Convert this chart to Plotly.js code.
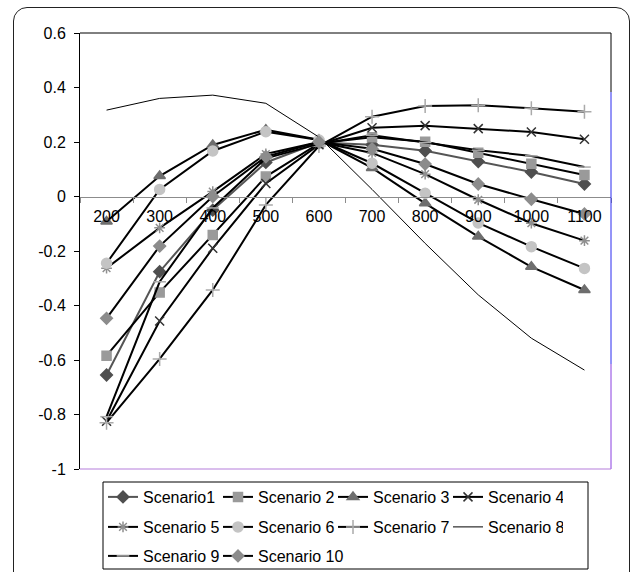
<!DOCTYPE html>
<html>
<head>
<meta charset="utf-8">
<script src="https://cdn.plot.ly/plotly-3.0.1.min.js"></script>
<style>
html,body{margin:0;padding:0;background:#fff;overflow:hidden;}
#wrap{position:relative;width:634px;height:572px;}
#chart{position:absolute;left:0;top:0;width:634px;height:572px;}
#frame{position:absolute;left:12.5px;top:7px;width:617px;height:600px;border:1.6px solid #222;border-radius:14px;pointer-events:none;z-index:5;box-sizing:border-box;}
</style>
</head>
<body>
<div id="wrap">
<div id="chart"></div>
<div id="frame"></div>
</div>
<script>
var categories = ['200','300','400','500','600','700','800','900','1000','1100'];
var seriesNames = ['Scenario1','Scenario 2','Scenario 3','Scenario 4','Scenario 5','Scenario 6','Scenario 7','Scenario 8','Scenario 9','Scenario 10'];
var s1  = [-0.655, -0.276, -0.05, 0.125, 0.198, 0.19, 0.168, 0.128, 0.09, 0.046];
var s2  = [-0.584, -0.352, -0.141, 0.073, 0.195, 0.217, 0.201, 0.161, 0.12, 0.079];
var s3  = [-0.092, 0.075, 0.189, 0.245, 0.208, 0.105, -0.025, -0.147, -0.258, -0.343];
var s4  = [-0.825, -0.457, -0.19, 0.048, 0.19, 0.252, 0.26, 0.249, 0.237, 0.21];
var s5  = [-0.263, -0.115, 0.018, 0.156, 0.2, 0.16, 0.082, -0.012, -0.098, -0.162];
var s6  = [-0.245, 0.026, 0.167, 0.238, 0.207, 0.122, 0.012, -0.097, -0.184, -0.264];
var s7  = [-0.83, -0.596, -0.343, -0.031, 0.185, 0.293, 0.332, 0.335, 0.324, 0.311];
var s8  = [0.317, 0.36, 0.372, 0.342, 0.218, 0.026, -0.172, -0.361, -0.52, -0.637];
var s9  = [-0.808, -0.313, -0.042, 0.14, 0.193, 0.225, 0.198, 0.17, 0.149, 0.108];
var s10 = [-0.447, -0.182, 0.0, 0.146, 0.2, 0.175, 0.119, 0.046, -0.01, -0.064];
var yTickVals = [0.6, 0.4, 0.2, 0, -0.2, -0.4, -0.6, -0.8, -1];
var yTickText = ['0.6', '0.4', '0.2', '0', '-0.2', '-0.4', '-0.6', '-0.8', '-1'];

var values = [s1, s2, s3, s4, s5, s6, s7, s8, s9, s10];
var styles = [
  {lc:'#555555', lw:2, sym:'diamond', ms:9, mc:'#4f4f4f', lg:'legend'},
  {lc:'#000000', lw:2, sym:'square', ms:9, mc:'#9a9a9a', lg:'legend'},
  {lc:'#000000', lw:2, sym:'triangle-up', ms:10, mc:'#6e6e6e', lg:'legend'},
  {lc:'#000000', lw:2, sym:'x-thin-open', ms:9, mc:'#333333', lg:'legend'},
  {lc:'#000000', lw:2, sym:'asterisk-open', ms:9, mc:'#8f8f8f', lg:'legend2'},
  {lc:'#000000', lw:2, sym:'circle', ms:10, mc:'#c4c4c4', lg:'legend2'},
  {lc:'#000000', lw:2, sym:'cross-thin-open', ms:10, mc:'#aaaaaa', lg:'legend2'},
  {lc:'#000000', lw:1, sym:null, ms:0, mc:'#000000', lg:'legend2'},
  {lc:'#000000', lw:2, sym:'line-ew-open', ms:9, mc:'#aaaaaa', lg:'legend3'},
  {lc:'#000000', lw:2, sym:'diamond', ms:9, mc:'#8c8c8c', lg:'legend3', lw2:100}
];

var traces = values.map(function(v, i) {
  var st = styles[i];
  var t = {
    type: 'scatter',
    x: categories,
    y: v,
    name: seriesNames[i],
    legend: st.lg,
    line: {color: st.lc, width: st.lw},
    hoverinfo: 'x+y+name'
  };
  if (st.lw2) t.legendwidth = st.lw2;
  if (st.sym) {
    t.mode = 'lines+markers';
    t.marker = {symbol: st.sym, size: st.ms, color: st.mc, line: {color: st.mc, width: 1.5}};
  } else {
    t.mode = 'lines';
  }
  return t;
});

var W = 531, H = 436, L = 80, T = 33;
function px(x) { return (x - L) / W; }
function py(y) { return (T + H - y) / H; }

var legendBase = {
  orientation: 'h', xanchor: 'left', yanchor: 'middle', x: px(103),
  entrywidth: 70, entrywidthmode: 'pixels', bgcolor: 'rgba(0,0,0,0)', borderwidth: 0,
  font: {family: 'Liberation Sans, Arial, sans-serif', size: 16, color: '#000'},
  traceorder: 'normal', itemclick: false, itemdoubleclick: false
};
function leg(y) { var o = JSON.parse(JSON.stringify(legendBase)); o.y = y; return o; }

var layout = {
  width: 634, height: 572,
  margin: {l: L, r: 634 - L - W, t: T, b: 572 - T - H, autoexpand: false},
  paper_bgcolor: '#ffffff', plot_bgcolor: '#ffffff',
  font: {family: 'Liberation Sans, Arial, sans-serif', size: 16, color: '#000'},
  showlegend: true,
  legend: leg(py(497)),
  legend2: leg(py(527)),
  legend3: leg(py(556)),
  xaxis: {
    type: 'category', range: [-0.5, 9.5], anchor: 'free', position: 0.625,
    showline: true, linecolor: '#8c8c8c', linewidth: 1.5,
    ticks: 'outside', tickson: 'boundaries', ticklen: 5, tickcolor: '#8c8c8c', tickwidth: 1,
    showgrid: false, zeroline: false, ticklabelstandoff: 5,
    tickfont: {family: 'Liberation Sans, Arial, sans-serif', size: 16, color: '#000'}
  },
  yaxis: {
    range: [-1, 0.6], tickvals: yTickVals, ticktext: yTickText,
    showline: true, linecolor: '#000', linewidth: 1,
    ticks: 'outside', ticklen: 5, tickcolor: '#000', tickwidth: 1,
    showgrid: false, zeroline: false, ticklabelstandoff: 5,
    tickfont: {family: 'Liberation Sans, Arial, sans-serif', size: 16, color: '#000'}
  },
  shapes: [
    {type: 'line', xref: 'paper', yref: 'paper', x0: 0, x1: 1, y0: 1, y1: 1, line: {color: '#000', width: 1}},
    {type: 'line', xref: 'paper', yref: 'paper', x0: 1, x1: 1, y0: 1, y1: py(92), line: {color: '#000', width: 1}},
    {type: 'line', xref: 'paper', yref: 'paper', x0: 1, x1: 1, y0: py(92), y1: py(364), line: {color: '#2b2bf0', width: 1}},
    {type: 'line', xref: 'paper', yref: 'paper', x0: 1, x1: 1, y0: py(364), y1: 0, line: {color: '#8a3fe0', width: 1}},
    {type: 'line', xref: 'paper', yref: 'paper', x0: 0, x1: 1, y0: 0, y1: 0, line: {color: '#b57edc', width: 1.2}},
    {type: 'rect', xref: 'paper', yref: 'paper', x0: px(103), x1: px(588), y0: py(482), y1: py(569), line: {color: '#000', width: 1}}
  ]
};

Plotly.newPlot('chart', traces, layout, {staticPlot: true, displayModeBar: false});
</script>
</body>
</html>
